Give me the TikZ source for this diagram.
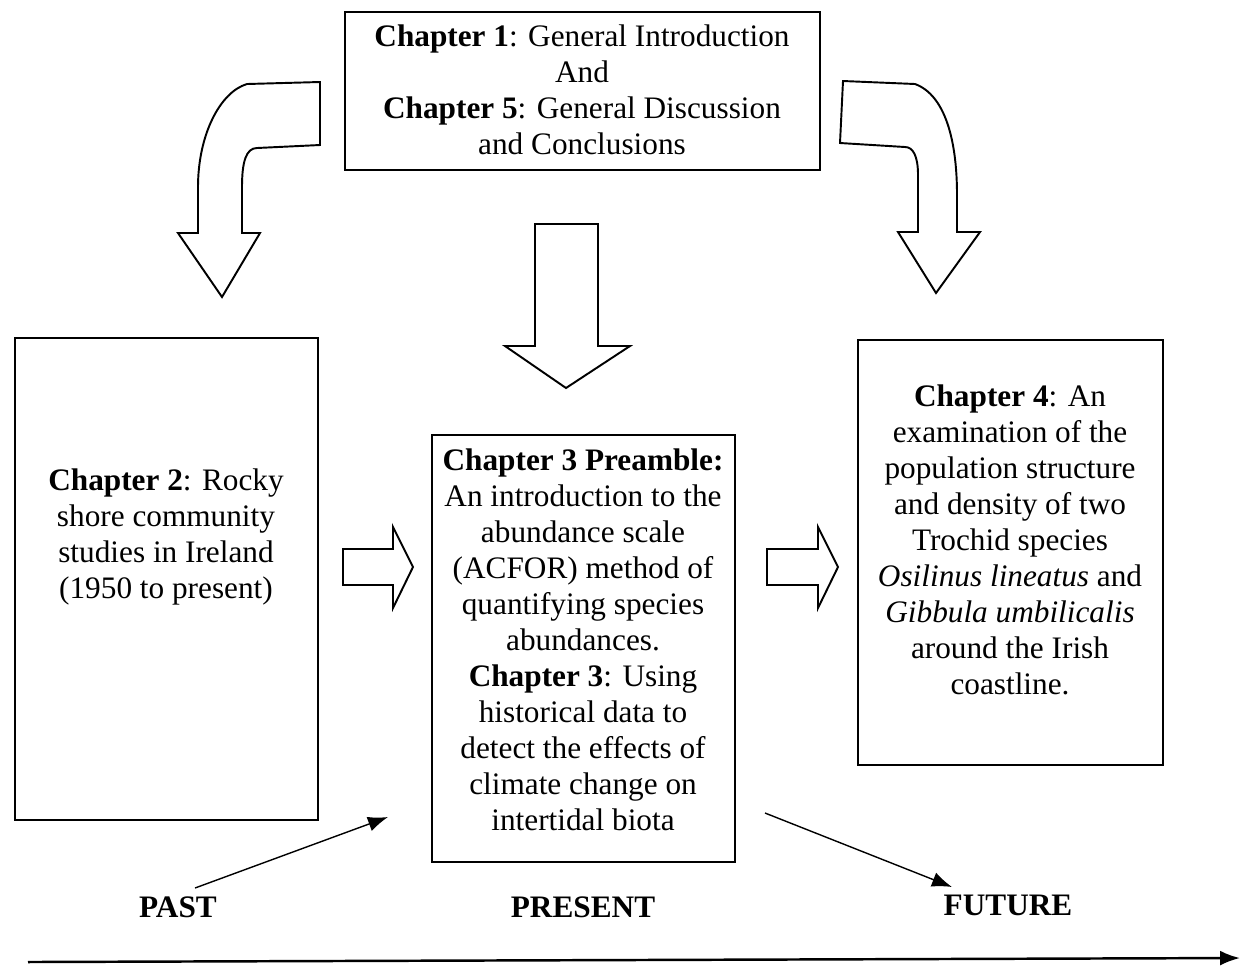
\documentclass[tikz,border=0pt]{standalone}
\usepackage{fontspec}
\setmainfont{Liberation Serif}
\usetikzlibrary{arrows.meta}
\begin{document}
\begin{tikzpicture}[x=0.02cm, y=-0.02cm, >={Latex[length=4mm,width=3mm]}]
  \tikzset{
    chapbox/.style={rectangle, draw, line width=1.4pt, inner sep=0pt},
    chaptext/.style={align=center, inner sep=0pt, font=\fontsize{17.8}{20.5}\selectfont},
    timelabel/.style={font=\fontsize{17.8}{20.5}\selectfont\bfseries},
    blockarrow/.style={draw, line width=1.1pt, line join=miter, fill=white}
  }
  \useasboundingbox (0,0) rectangle (1246,965);
  % boxes
  \node[chapbox, minimum width=9.5cm, minimum height=3.16cm] (intro) at (582.5,91) {};
  \node[chapbox, minimum width=6.06cm, minimum height=9.64cm] (past) at (166.5,579) {};
  \node[chapbox, minimum width=6.06cm, minimum height=8.54cm] (present) at (583.5,648.5) {};
  \node[chapbox, minimum width=6.1cm, minimum height=8.5cm] (future) at (1010.5,552.5) {};
  \node[chaptext] (introtxt) at (582,90) {\textbf{Chapter 1}: General Introduction\\And\\
    \textbf{Chapter 5}: General Discussion\\and Conclusions};
  \node[chaptext] (pasttxt) at (166,537) {\textbf{Chapter 2}: Rocky\\shore community\\
    studies in Ireland\\(1950 to present)};
  \node[chaptext] (presenttxt) at (583,640) {\textbf{Chapter 3 Preamble:}\\An introduction to the\\
    abundance scale\\(ACFOR) method of\\quantifying species\\abundances.\\
    \textbf{Chapter 3}: Using\\historical data to\\detect the effects of\\climate change on\\intertidal biota};
  \node[chaptext] (futuretxt) at (1010,540) {\textbf{Chapter 4}: An\\examination of the\\
    population structure\\and density of two\\Trochid species\\\textit{Osilinus lineatus} and\\
    \textit{Gibbula umbilicalis}\\around the Irish\\coastline.};
  % block arrows
  \draw[blockarrow] (320,82) -- (247,84) .. controls (220,92) and (198,135) .. (198,187)
    -- (198,233) -- (178,233) -- (222,297) -- (260,233) -- (242,233) -- (242,187)
    .. controls (242,162) and (246,148) .. (257,148) -- (320,145) -- cycle;
  \draw[blockarrow] (843,81) -- (915,84) .. controls (945,95) and (957,140) .. (957,195)
    -- (957,232) -- (980,232) -- (936,293) -- (898,232) -- (918,232) -- (918,175)
    .. controls (918,156) and (913,147) .. (905,147) -- (840,143) -- cycle;
  \draw[blockarrow] (535,224) -- (598,224) -- (598,346) -- (630,346) -- (566,388)
    -- (505,346) -- (535,346) -- cycle;
  \draw[blockarrow] (343,549) -- (393,549) -- (393,527) -- (413,567) -- (393,608)
    -- (393,585) -- (343,585) -- cycle;
  \draw[blockarrow] (767,549) -- (818,549) -- (818,527) -- (838,567) -- (818,608)
    -- (818,585) -- (767,585) -- cycle;
  % time line
  \node[timelabel] (pastlbl) at (178,907) {PAST};
  \node[timelabel] (nowlbl) at (583,907) {PRESENT};
  \node[timelabel] (futurelbl) at (1008,905) {FUTURE};
  \coordinate (pastfrom) at (195,888);
  \coordinate (pastto) at (388,817);
  \coordinate (futfrom) at (765,813);
  \coordinate (futto) at (952,887);
  \coordinate (tstart) at (28,962);
  \coordinate (tend) at (1240,958);
  \draw[->, line width=0.8pt] (pastfrom) -- (pastto);
  \draw[->, line width=0.8pt] (futfrom) -- (futto);
  \draw[->, line width=1.4pt] (tstart) -- (tend);
\end{tikzpicture}
\end{document}
